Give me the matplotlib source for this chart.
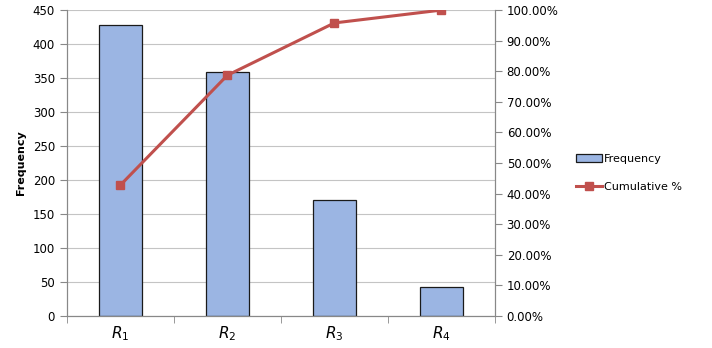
import numpy as np
import matplotlib.pyplot as plt
from matplotlib.ticker import PercentFormatter

categories = [r'$R_1$', r'$R_2$', r'$R_3$', r'$R_4$']
frequency = [428, 359, 170, 42]
cumulative = [42.8, 78.7, 95.8, 100.0]

fig = plt.figure(figsize=(7.12, 3.48), dpi=100)
ax = fig.add_axes([0.094, 0.092, 0.601, 0.879])
ax2 = ax.twinx()

x = np.arange(len(categories))
ax.set_axisbelow(True)
ax.yaxis.grid(True, color='#c4c4c4', linewidth=0.8)
bars = ax.bar(x, frequency, width=0.4, color='#9BB5E3', edgecolor='#1a1a1a',
              linewidth=0.9, label='Frequency')
line, = ax2.plot(x, cumulative, color='#C0504D', linewidth=2.2, marker='s',
                 markersize=6, label='Cumulative %')

ax.set_xlim(-0.5, 3.5)
ax.set_ylim(0, 450)
ax.set_yticks(range(0, 451, 50))
ax2.set_ylim(0, 100)
ax2.set_yticks(range(0, 101, 10))
ax2.yaxis.set_major_formatter(PercentFormatter(decimals=2))

ax.set_xticks(x)
ax.set_xticklabels(categories, fontsize=11)
ax.set_xticks(np.arange(-0.5, 4, 1), minor=True)
ax.tick_params(axis='x', which='major', length=0, pad=6)
ax.tick_params(axis='x', which='minor', length=5, color='#888888')
ax.tick_params(axis='y', labelsize=8.5, color='#888888', length=5)
ax2.tick_params(axis='y', labelsize=8.5, color='#888888', length=5)

for a in (ax, ax2):
    a.spines['top'].set_visible(False)
    for s in ('left', 'right', 'bottom'):
        a.spines[s].set_color('#888888')

ax.set_ylabel('Frequency', fontsize=8, fontweight='bold', labelpad=5)

fig.legend([bars, line], ['Frequency', 'Cumulative %'], loc='center left',
           bbox_to_anchor=(0.795, 0.503), frameon=False, fontsize=8,
           handlelength=2.3, handletextpad=0.2, labelspacing=1.6)

fig.savefig('out.png', dpi=100)
